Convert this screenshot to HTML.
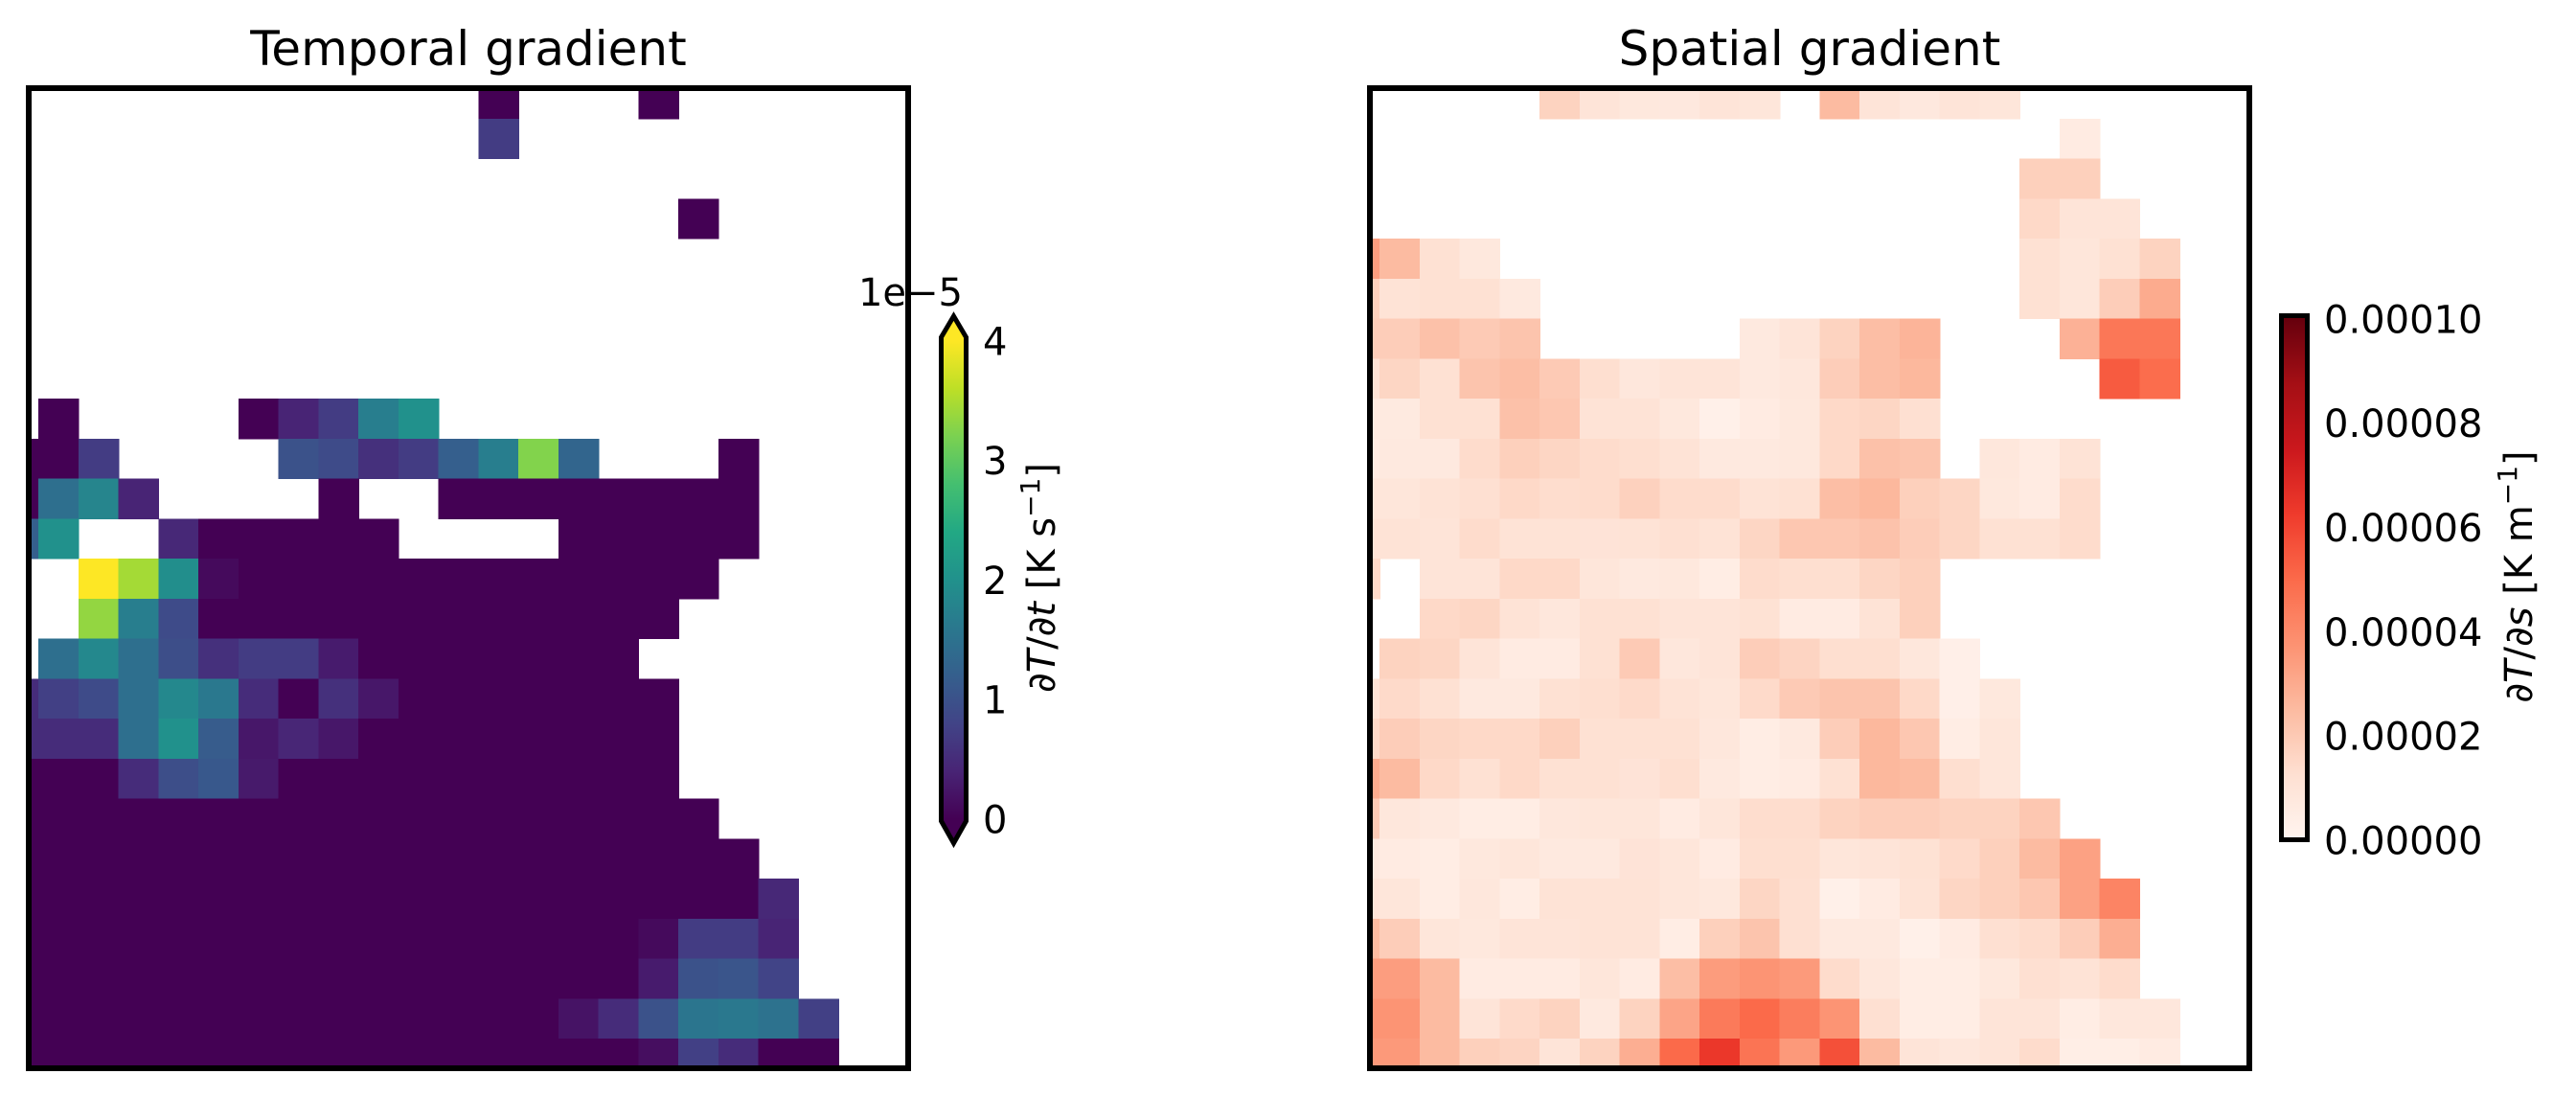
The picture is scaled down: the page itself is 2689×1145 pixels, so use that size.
<!DOCTYPE html>
<html><head><meta charset="utf-8"><style>
html,body{margin:0;padding:0;background:#fff;}
svg{display:block;font-family:"DejaVu Sans","Liberation Sans",sans-serif;}
</style></head><body>
<svg id="fig" width="2689" height="1145" viewBox="0 0 2689 1145" xmlns="http://www.w3.org/2000/svg">
<defs>
<clipPath id="clipL"><rect x="33" y="95" width="912" height="1017"/></clipPath>
<clipPath id="clipR"><rect x="1433" y="95" width="912" height="1017"/></clipPath>
<linearGradient id="gradV" gradientUnits="userSpaceOnUse" x1="0" y1="855" x2="0" y2="356"></linearGradient>
<linearGradient id="gradR" gradientUnits="userSpaceOnUse" x1="0" y1="877" x2="0" y2="333"></linearGradient>
</defs>
<rect width="2689" height="1145" fill="#fff"/>
<text x="489" y="68" font-size="50" text-anchor="middle">Temporal gradient</text>
<text x="1889" y="68" font-size="50" text-anchor="middle">Spatial gradient</text>
<g id="cellsL" clip-path="url(#clipL)" shape-rendering="crispEdges"></g>
<g id="cellsR" clip-path="url(#clipR)" shape-rendering="crispEdges"></g>
<rect x="30" y="92" width="918" height="1023" fill="none" stroke="#000" stroke-width="6"/>
<rect x="1430" y="92" width="918" height="1023" fill="none" stroke="#000" stroke-width="6"/>
<polygon points="995.5,330 1008.5,352 1008.5,857 995.5,880 982.5,857 982.5,352" fill="url(#gradV)" stroke="#000" stroke-width="5" stroke-linejoin="miter"/>
<text x="1005" y="319" font-size="40" text-anchor="end">1e−5</text>
<g id="ticksL" font-size="40"></g>
<text transform="translate(1101,603) rotate(-90)" font-size="40" text-anchor="middle">∂<tspan font-style="italic">T</tspan>/∂<tspan font-style="italic">t</tspan> [K s<tspan font-size="28" dy="-16">−1</tspan><tspan dy="16">]</tspan></text>
<rect x="2381.5" y="329.5" width="27" height="547" fill="url(#gradR)" stroke="#000" stroke-width="5"/>
<g id="ticksR" font-size="40"></g>
<text transform="translate(2643,602) rotate(-90)" font-size="40" text-anchor="middle">∂<tspan font-style="italic">T</tspan>/∂<tspan font-style="italic">s</tspan> [K m<tspan font-size="28" dy="-16">−1</tspan><tspan dy="16">]</tspan></text>
</svg>
<script>
const _ = null;
// Temporal gradient values (units 1e-5 K s^-1), rows top->bottom, 22 columns
const temporalValues = [
[_,_,_,_,_,_,_,_,_,_,_,_,0,_,_,_,0,_,_,_,_,_],
[_,_,_,_,_,_,_,_,_,_,_,_,0.7,_,_,_,_,_,_,_,_,_],
[_,_,_,_,_,_,_,_,_,_,_,_,_,_,_,_,_,_,_,_,_,_],
[_,_,_,_,_,_,_,_,_,_,_,_,_,_,_,_,_,0,_,_,_,_],
[_,_,_,_,_,_,_,_,_,_,_,_,_,_,_,_,_,_,_,_,_,_],
[_,_,_,_,_,_,_,_,_,_,_,_,_,_,_,_,_,_,_,_,_,_],
[_,_,_,_,_,_,_,_,_,_,_,_,_,_,_,_,_,_,_,_,_,_],
[_,_,_,_,_,_,_,_,_,_,_,_,_,_,_,_,_,_,_,_,_,_],
[_,0,_,_,_,_,0,0.4,0.7,1.7,2.0,_,_,_,_,_,_,_,_,_,_,_],
[0,0,0.7,_,_,_,_,1.0,0.9,0.55,0.7,1.2,1.7,3.25,1.3,_,_,_,0,_,_,_],
[0,1.45,1.8,0.4,_,_,_,_,0,_,_,0,0,0,0,0,0,0,0,_,_,_],
[1.2,2.0,_,_,0.45,0,0,0,0,0,_,_,_,_,0,0,0,0,0,_,_,_],
[_,_,4.0,3.45,1.95,0.1,0,0,0,0,0,0,0,0,0,0,0,0,_,_,_,_],
[_,_,3.35,1.7,0.9,0,0,0,0,0,0,0,0,0,0,0,0,_,_,_,_,_],
[_,1.45,1.85,1.45,0.95,0.55,0.7,0.7,0.3,0,0,0,0,0,0,0,_,_,_,_,_,_],
[0.5,0.75,0.9,1.45,1.85,1.6,0.5,0,0.55,0.25,0,0,0,0,0,0,0,_,_,_,_,_],
[0.5,0.5,0.5,1.45,2.0,1.15,0.25,0.42,0.25,0,0,0,0,0,0,0,0,_,_,_,_,_],
[0,0,0,0.5,0.95,1.1,0.28,0,0,0,0,0,0,0,0,0,0,_,_,_,_,_],
[0,0,0,0,0,0,0,0,0,0,0,0,0,0,0,0,0,0,_,_,_,_],
[0,0,0,0,0,0,0,0,0,0,0,0,0,0,0,0,0,0,0,_,_,_],
[0,0,0,0,0,0,0,0,0,0,0,0,0,0,0,0,0,0,0,0.45,_,_],
[0,0,0,0,0,0,0,0,0,0,0,0,0,0,0,0,0.1,0.7,0.7,0.4,_,_],
[0,0,0,0,0,0,0,0,0,0,0,0,0,0,0,0,0.3,1.0,1.05,0.8,_,_],
[0,0,0,0,0,0,0,0,0,0,0,0,0,0,0.2,0.5,1.0,1.55,1.6,1.5,0.75,_],
[0,0,0,0,0,0,0,0,0,0,0,0,0,0,0,0,0.15,0.75,0.5,0,0,_]
];
// Spatial gradient values (units 1e-5 K m^-1)
const spatialValues = [
[_,_,_,_,_,1.7,1.0,0.8,0.75,1.0,0.9,_,2.5,1.0,0.75,1.0,0.9,_,_,_,_,_],
[_,_,_,_,_,_,_,_,_,_,_,_,_,_,_,_,_,_,0.6,_,_,_],
[_,_,_,_,_,_,_,_,_,_,_,_,_,_,_,_,_,1.8,1.8,_,_,_],
[_,_,_,_,_,_,_,_,_,_,_,_,_,_,_,_,_,1.5,1.0,1.0,_,_],
[3.4,2.5,1.2,0.8,_,_,_,_,_,_,_,_,_,_,_,_,_,1.2,0.9,1.2,1.7,_],
[1.8,1.1,1.2,1.2,0.7,_,_,_,_,_,_,_,_,_,_,_,_,1.2,0.9,1.9,3.0,_],
[1.9,1.9,2.3,2.0,2.2,_,_,_,_,_,0.7,1.0,1.7,2.4,2.7,_,_,_,2.8,4.6,4.6,_],
[1.1,1.6,1.2,2.2,2.4,2.0,1.3,0.85,1.0,1.0,0.7,0.85,1.9,2.4,2.6,_,_,_,_,5.4,4.9,_],
[0.65,0.65,1.2,1.2,2.3,2.1,1.1,1.1,0.8,0.3,0.6,0.8,1.5,1.6,1.25,_,_,_,_,_,_,_],
[0.6,0.7,0.7,1.4,1.8,1.6,1.4,1.3,1.1,0.7,0.7,0.8,1.5,2.3,2.2,_,0.85,0.6,1.1,_,_,_],
[0.9,0.9,1.1,1.25,1.5,1.35,1.4,1.75,1.4,1.4,1.1,1.2,2.4,2.6,1.8,1.6,0.8,0.6,1.4,_,_,_],
[1.1,1.1,1.0,1.4,1.1,1.1,1.05,1.1,1.25,1.1,1.6,2.1,2.1,2.25,1.9,1.6,1.2,1.2,1.4,_,_,_],
[1.5,_,1.0,1.0,1.5,1.5,0.9,0.7,0.8,0.5,1.4,1.3,1.3,1.6,1.8,_,_,_,_,_,_,_],
[_,_,1.5,1.6,1.1,0.85,1.2,1.2,1.0,1.0,1.15,0.6,0.6,1.1,1.8,_,_,_,_,_,_,_],
[_,1.7,1.6,1.0,0.6,0.6,1.2,2.0,0.85,1.0,1.9,1.65,1.3,1.3,0.85,0.35,_,_,_,_,_,_],
[1.1,1.45,1.2,0.7,0.7,1.2,1.3,1.45,1.1,0.9,1.45,2.0,2.2,2.2,1.5,0.35,0.8,_,_,_,_,_],
[1.5,1.9,1.6,1.5,1.5,1.8,1.2,1.2,1.2,0.85,0.5,0.7,1.9,2.6,2.1,0.5,0.9,_,_,_,_,_],
[3.0,2.5,1.5,1.2,1.5,1.2,1.2,1.05,1.3,0.7,0.5,0.6,1.2,2.6,2.5,1.3,0.9,_,_,_,_,_],
[2.0,0.85,0.7,0.5,0.5,0.85,0.9,0.9,0.6,0.9,1.35,1.35,1.7,1.85,1.85,1.7,1.7,2.1,_,_,_,_],
[0.7,0.6,0.5,0.8,0.9,0.7,0.7,1.05,0.9,0.6,1.3,1.3,0.9,1.0,1.15,1.45,1.8,2.5,3.3,_,_,_],
[1.0,0.9,0.5,0.85,0.5,1.1,1.1,1.1,0.9,0.8,1.6,1.25,0.3,0.6,1.1,1.6,1.8,2.1,3.3,4.2,_,_],
[2.5,1.9,0.9,0.8,1.0,1.0,1.1,1.1,0.5,1.8,2.2,1.25,0.7,0.7,0.3,0.6,1.25,1.4,1.9,2.9,_,_],
[3.4,3.4,2.5,0.6,0.6,0.6,0.9,0.6,2.4,3.45,3.7,3.5,1.4,0.85,0.5,0.5,0.8,1.25,1.1,1.4,_,_],
[3.7,3.7,2.5,1.0,1.45,1.7,0.7,1.7,3.2,4.5,5.0,4.4,3.7,1.25,0.5,0.5,1.0,1.0,0.5,0.85,0.85,_],
[3.55,3.55,2.5,1.8,1.65,1.0,1.7,2.9,5.0,6.4,4.7,3.55,5.7,2.5,1.0,0.85,1.0,1.4,0.4,0.4,0.6,_]
];
const temporalTicks = [0, 1, 2, 3, 4];
const temporalTickLabels = ["0", "1", "2", "3", "4"];
const spatialTicks = [0, 2, 4, 6, 8, 10];
const spatialTickLabels = ["0.00000", "0.00002", "0.00004", "0.00006", "0.00008", "0.00010"];

const viridis = ["#440154","#482475","#414487","#355f8d","#2a788e","#21918c","#22a884","#44bf70","#7ad151","#bddf26","#fde725"];
const reds = ["#fff5f0","#fee0d2","#fcbba1","#fc9272","#fb6a4a","#ef3b2c","#cb181d","#a50f15","#67000d"];
function hex(c){return [parseInt(c.slice(1,3),16),parseInt(c.slice(3,5),16),parseInt(c.slice(5,7),16)];}
function cmap(stops,t){
  t=Math.max(0,Math.min(1,t));
  const p=t*(stops.length-1), i=Math.min(Math.floor(p),stops.length-2), f=p-i;
  const a=hex(stops[i]), b=hex(stops[i+1]);
  return "rgb("+a.map((v,k)=>Math.round(v+(b[k]-v)*f)).join(",")+")";
}
// axis functions
const cellW = 41.75, cellH = 41.75;
function xCol(c, x0){ return x0 + 40.2 + cellW*(c-1); }
function yRow(r){ return 123.8 + cellH*(r-1); }
const NS = "http://www.w3.org/2000/svg";
function drawGrid(gid, values, x0, stops, vmax, name){
  const g = document.getElementById(gid);
  values.forEach((row, r) => row.forEach((v, c) => {
    if (v === null) return;
    const el = document.createElementNS(NS, "rect");
    el.setAttribute("x", xCol(c, x0).toFixed(2));
    el.setAttribute("y", yRow(r).toFixed(2));
    el.setAttribute("width", (cellW+0.6).toFixed(2));
    el.setAttribute("height", (cellH+0.6).toFixed(2));
    el.setAttribute("fill", cmap(stops, v/vmax));
    
    
    g.appendChild(el);
  }));
}
drawGrid("cellsL", temporalValues, 0, viridis, 4, "temporal-cell");
drawGrid("cellsR", spatialValues, 1400, reds, 10, "spatial-cell");

function fillGrad(id, stops){
  const g = document.getElementById(id);
  stops.forEach((c,i)=>{
    const s = document.createElementNS(NS,"stop");
    s.setAttribute("offset", (i/(stops.length-1)).toFixed(3));
    s.setAttribute("stop-color", c);
    g.appendChild(s);
  });
}
fillGrad("gradV", viridis);
fillGrad("gradR", reds);

function cbY(v, vmax, y0, y1){ return y0 - (y0-y1)*v/vmax; }
function drawTicks(gid, ticks, labels, vmax, y0, y1, x, name){
  const g = document.getElementById(gid);
  ticks.forEach((t,i)=>{
    const el = document.createElementNS(NS,"text");
    el.setAttribute("x", x);
    el.setAttribute("y", cbY(t, vmax, y0, y1).toFixed(1));
    el.setAttribute("dy", "0.36em");
    el.textContent = labels[i];
    
    
    g.appendChild(el);
  });
}
drawTicks("ticksL", temporalTicks, temporalTickLabels, 4, 855, 356, 1026, "temporal-tick-label");
drawTicks("ticksR", spatialTicks, spatialTickLabels, 10, 877, 333, 2426, "spatial-tick-label");
</script>
</body></html>
